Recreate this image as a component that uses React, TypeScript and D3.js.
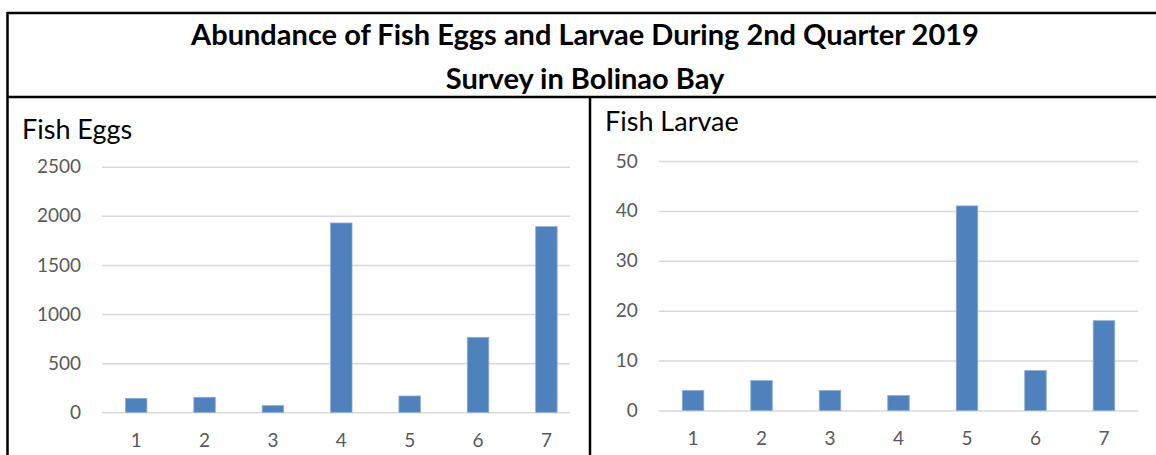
import { useEffect, useRef } from "react";
import * as d3 from "d3";

const stations = ["1", "2", "3", "4", "5", "6", "7"];
const eggCounts = [142, 153, 68, 1927, 166, 763, 1890];
const larvaeCounts = [4, 6, 4, 3, 41, 8, 18];
const eggTicks = [0, 500, 1000, 1500, 2000, 2500];
const larvaeTicks = [0, 10, 20, 30, 40, 50];

const width = 1156, height = 455;
const font = "Lato, 'Noto Sans', sans-serif";
const barColor = "#4f81bd";

type Panel = {
  title: string;
  titleX: number;
  titleY: number;
  values: number[];
  ticks: number[];
  x0: number;
  x1: number;
  gridEnd: number;
  yTop: number;
  yBottom: number;
};

const panels: Panel[] = [
  { title: "Fish Eggs", titleX: 22, titleY: 139, values: eggCounts, ticks: eggTicks,
    x0: 102, x1: 580.6, gridEnd: 570, yTop: 166.7, yBottom: 412.3 },
  { title: "Fish Larvae", titleX: 605, titleY: 131, values: larvaeCounts, ticks: larvaeTicks,
    x0: 658.8, x1: 1138.2, gridEnd: 1138.2, yTop: 161, yBottom: 410.5 },
];

const App = () => {
  const ref = useRef<SVGSVGElement>(null);

  useEffect(() => {
    const svg = d3.select(ref.current);
    svg.selectAll("*").remove();

    // table frame
    const frame = svg.append("g").attr("stroke", "#000").attr("stroke-width", 2.5);
    frame.append("line").attr("x1", 7).attr("x2", width).attr("y1", 13).attr("y2", 13);
    frame.append("line").attr("x1", 7.5).attr("x2", 7.5).attr("y1", 12).attr("y2", height);
    frame.append("line").attr("x1", 7).attr("x2", width).attr("y1", 97).attr("y2", 97);
    frame.append("line").attr("x1", 590).attr("x2", 590).attr("y1", 97).attr("y2", height);

    const title = svg.append("text")
      .attr("text-anchor", "middle")
      .attr("font-family", font)
      .attr("font-weight", 700)
      .attr("font-size", 29)
      .attr("fill", "#000");
    title.append("tspan").attr("x", 585).attr("y", 45)
      .text("Abundance of Fish Eggs and Larvae During 2nd Quarter 2019");
    title.append("tspan").attr("x", 585).attr("y", 89).text("Survey in Bolinao Bay");

    panels.forEach(p => {
      const g = svg.append("g");

      g.append("text")
        .attr("x", p.titleX).attr("y", p.titleY)
        .attr("font-family", font).attr("font-size", 27).attr("fill", "#000")
        .text(p.title);

      const x = d3.scaleBand()
        .domain(stations)
        .range([p.x0, p.x1])
        .paddingInner(0.686)
        .paddingOuter(0.343);

      const y = d3.scaleLinear()
        .domain([0, d3.max(p.ticks) as number])
        .range([p.yBottom, p.yTop]);

      // y axis with gridlines
      g.append("g")
        .attr("transform", `translate(${p.x0},0)`)
        .call(d3.axisLeft(y).tickValues(p.ticks).tickFormat(d3.format("d"))
          .tickSize(-(p.gridEnd - p.x0)).tickPadding(21))
        .call(a => a.select(".domain").remove())
        .call(a => a.selectAll(".tick line").attr("stroke", "#d9d9d9").attr("stroke-width", 1.5))
        .call(a => a.selectAll(".tick text")
          .attr("font-family", font).attr("font-size", 19).attr("fill", "#595959"));

      g.append("g")
        .selectAll("rect")
        .data(p.values)
        .join("rect")
          .attr("x", (_, i) => x(stations[i]) as number)
          .attr("y", d => y(d))
          .attr("width", x.bandwidth())
          .attr("height", d => y(0) - y(d))
          .attr("fill", barColor)
          .attr("stroke", "#8eaed6")
          .attr("stroke-width", 0.8);

      g.append("g")
        .attr("transform", `translate(0,${p.yBottom})`)
        .call(d3.axisBottom(x).tickSize(0).tickPadding(21))
        .call(a => a.select(".domain").remove())
        .call(a => a.selectAll(".tick text")
          .attr("font-family", font).attr("font-size", 19).attr("fill", "#595959"));
    });
  }, []);

  return (
    <svg ref={ref} width={width} height={height}
      style={{ position: "absolute", left: 0, top: 0, background: "#fff" }} />
  );
};

export default App;
